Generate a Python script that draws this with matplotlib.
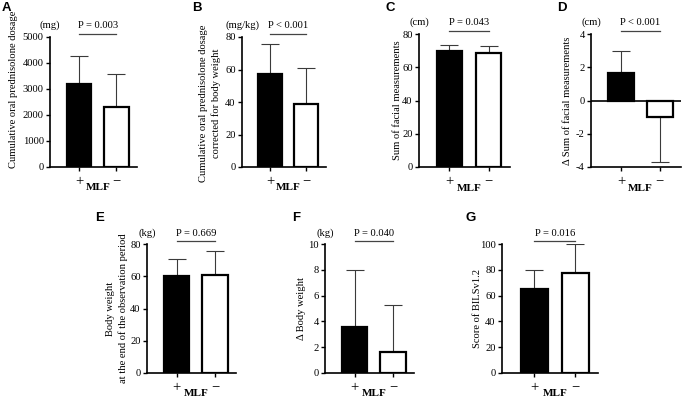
import matplotlib
matplotlib.use('Agg')
import matplotlib.pyplot as plt
from matplotlib.transforms import blended_transform_factory

plt.rcParams['font.family'] = ['Liberation Serif', 'DejaVu Serif']
plt.rcParams['axes.unicode_minus'] = False

groups = ['+', '\u2212']
group_label = 'MLF'
panel_letters = ['A', 'B', 'C', 'D', 'E', 'F', 'G']

means_A = [3200, 2300]
sd_A = [1080, 1260]
means_B = [57, 39]
sd_B = [19, 22]
means_C = [70, 68.5]
sd_C = [3.5, 4.0]
means_D = [1.65, -1.0]
sd_D = [1.3, 2.7]
means_E = [60, 61]
sd_E = [10.5, 14.7]
means_F = [3.6, 1.6]
sd_F = [4.4, 3.7]
means_G = [65, 77.5]
sd_G = [15, 22.5]

yticks_A = [0, 1000, 2000, 3000, 4000, 5000]
yticks_B = [0, 20, 40, 60, 80]
yticks_C = [0, 20, 40, 60, 80]
yticks_D = [-4, -2, 0, 2, 4]
yticks_E = [0, 20, 40, 60, 80]
yticks_F = [0, 2, 4, 6, 8, 10]
yticks_G = [0, 20, 40, 60, 80, 100]

units = ['(mg)', '(mg/kg)', '(cm)', '(cm)', '(kg)', '(kg)', '']
p_texts = ['P = 0.003', 'P < 0.001', 'P = 0.043', 'P < 0.001',
           'P = 0.669', 'P = 0.040', 'P = 0.016']
ylabels = ['Cumulative oral prednisolone dosage',
           'Cumulative oral prednisolone dosage\ncorrected for body weight',
           'Sum of facial measurements',
           '\u0394 Sum of facial measurements',
           'Body weight\nat the end of the observation period',
           '\u0394 Body weight',
           'Score of BILSv1.2']

all_means = [means_A, means_B, means_C, means_D, means_E, means_F, means_G]
all_sd = [sd_A, sd_B, sd_C, sd_D, sd_E, sd_F, sd_G]
all_ticks = [yticks_A, yticks_B, yticks_C, yticks_D, yticks_E, yticks_F, yticks_G]

W, H = 683, 400
fig = plt.figure(figsize=(W / 100, H / 100), dpi=100)

# layout in pixels: left, right, top, bottom
layout = [
    (50, 137, 37, 167),
    (242, 326, 37, 167),
    (419, 510, 34, 167),
    (591, 681, 34, 167),
    (147, 236, 244, 373),
    (325, 414, 244, 373),
    (502, 598, 244, 373),
]
letter_pos = [(2, 2), (192, 2), (385, 2), (557, 2), (95, 212), (292, 212), (465, 212)]
ylabel_x_px = [14, 210, 398, 568, 117, 301, 478]
ylabel_y_frac = [0.6, 0.49, 0.5, 0.5, 0.5, 0.5, 0.5]

FS = 7.6
for i in range(7):
    L, R, T, B = layout[i]
    ax = fig.add_axes([L / W, 1 - B / H, (R - L) / W, (B - T) / H])
    m = all_means[i]
    sd = all_sd[i]
    x = [0, 1]
    colors = ['black', 'white']
    # error bars: one-sided, away from zero
    lower = [0 if v >= 0 else s for v, s in zip(m, sd)]
    upper = [s if v >= 0 else 0 for v, s in zip(m, sd)]
    ax.errorbar(x, m, yerr=[lower, upper], fmt='none', ecolor='#3a3a3a',
                elinewidth=0.8, capsize=6.5, capthick=0.8, zorder=1)
    ax.bar(x, m, width=0.66, color=colors, edgecolor='black', linewidth=1.6, zorder=2)
    ticks = all_ticks[i]
    ax.set_ylim(ticks[0], ticks[-1])
    ax.set_yticks(ticks)
    ax.set_xlim(-0.78, 1.55)
    ax.set_xticks(x)
    ax.set_xticklabels(groups, fontsize=10.5)
    ax.spines['top'].set_visible(False)
    ax.spines['right'].set_visible(False)
    for sp in ['left', 'bottom']:
        ax.spines[sp].set_linewidth(1.2)
    ax.tick_params(axis='y', direction='out', length=3, width=1.0, pad=1.5, labelsize=FS)
    ax.tick_params(axis='x', direction='out', length=3, width=1.0, pad=2.5)
    if ticks[0] < 0:
        ax.axhline(0, color='black', linewidth=1.2, zorder=3)
    ax.set_ylabel(ylabels[i], fontsize=FS, linespacing=1.35)
    ax.yaxis.label.set_va('center')
    ax.yaxis.set_label_coords((ylabel_x_px[i] - L) / (R - L), ylabel_y_frac[i])
    tr = blended_transform_factory(ax.transData, ax.transAxes)
    # significance bracket
    ax.plot([0, 1], [1.025, 1.025], transform=tr, color='#444444', lw=0.9, clip_on=False)
    ax.text(0.5, 1.05, p_texts[i], transform=tr, ha='center', va='bottom', fontsize=FS)
    if units[i]:
        ax.text(0.0, 1.05, units[i], transform=ax.transAxes, ha='center', va='bottom', fontsize=FS)
    ax.text(0.5, -0.125, group_label, transform=tr, ha='center', va='top',
            fontsize=8, fontweight='bold')
    lx, ly = letter_pos[i]
    fig.text(lx / W, 1 - ly / H, panel_letters[i], ha='left', va='top',
             fontsize=9.5, fontweight='bold', family='Liberation Sans')

fig.savefig('out.png', dpi=100)
